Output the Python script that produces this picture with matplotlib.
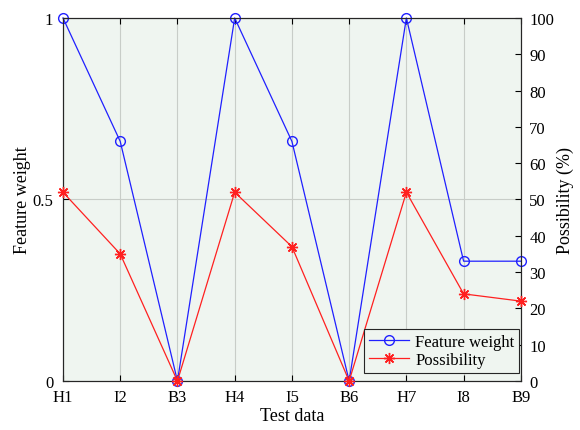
import matplotlib
matplotlib.use("Agg")
import matplotlib.pyplot as plt
import numpy as np

plt.rcParams['font.family'] = ['Liberation Serif', 'DejaVu Serif']

test_data = ["H1", "I2", "B3", "H4", "I5", "B6", "H7", "I8", "B9"]
feature_weight = [1.0, 0.66, 0.0, 1.0, 0.66, 0.0, 1.0, 0.33, 0.33]
possibility = [52, 35, 0, 52, 37, 0, 52, 24, 22]

x = np.arange(len(test_data))

fig = plt.figure(figsize=(5.8, 4.31), dpi=100)
ax = fig.add_axes([0.1086, 0.1137, 0.7894, 0.8423])
ax.set_facecolor("#eff5f0")

l1, = ax.plot(x, feature_weight, color="#2020ff", marker="o", markersize=7,
              markerfacecolor="none", linewidth=0.9, label="Feature weight",
              clip_on=False, zorder=3)
ax.set_xlim(0, len(test_data) - 1)
ax.set_ylim(0, 1)
ax.set_yticks([0, 0.5, 1])
ax.set_yticklabels(["0", "0.5", "1"])
ax.set_xticks(x)
ax.set_xticklabels(test_data)
ax.grid(True, color="#c8cdc8", linewidth=0.8)
ax.set_axisbelow(True)
ax.tick_params(direction="in", labelsize=12, length=4, top=True, pad=6)
ax.tick_params(axis="y", pad=7)
ax.set_xlabel("Test data", fontsize=13, labelpad=1)
ax.set_ylabel("Feature weight", fontsize=13, labelpad=1)

ax2 = ax.twinx()
l2, = ax2.plot(x, possibility, color="#ff2020", marker=(8, 2, 0), markersize=8,
               markeredgewidth=1.0, linewidth=0.9, label="Possibility",
               clip_on=False, zorder=4)
ax2.set_ylim(0, 100)
ax2.set_yticks(np.arange(0, 101, 10))
ax2.tick_params(direction="in", labelsize=12, length=4, pad=6)
ax2.set_ylabel("Possibility (%)", fontsize=13, labelpad=2)

for a in (ax, ax2):
    for s in a.spines.values():
        s.set_color("#262626")
        s.set_linewidth(0.8)

leg = ax2.legend([l1, l2], ["Feature weight", "Possibility"], loc="lower right",
                 bbox_to_anchor=(0.997, 0.022),
                 fontsize=12, fancybox=False, framealpha=1, edgecolor="#262626",
                 facecolor="#eff5f0", borderaxespad=0, handlelength=2.4,
                 borderpad=0.3, labelspacing=0.15, handletextpad=0.4)
leg.get_frame().set_linewidth(0.8)

fig.savefig("out.png", dpi=100)
